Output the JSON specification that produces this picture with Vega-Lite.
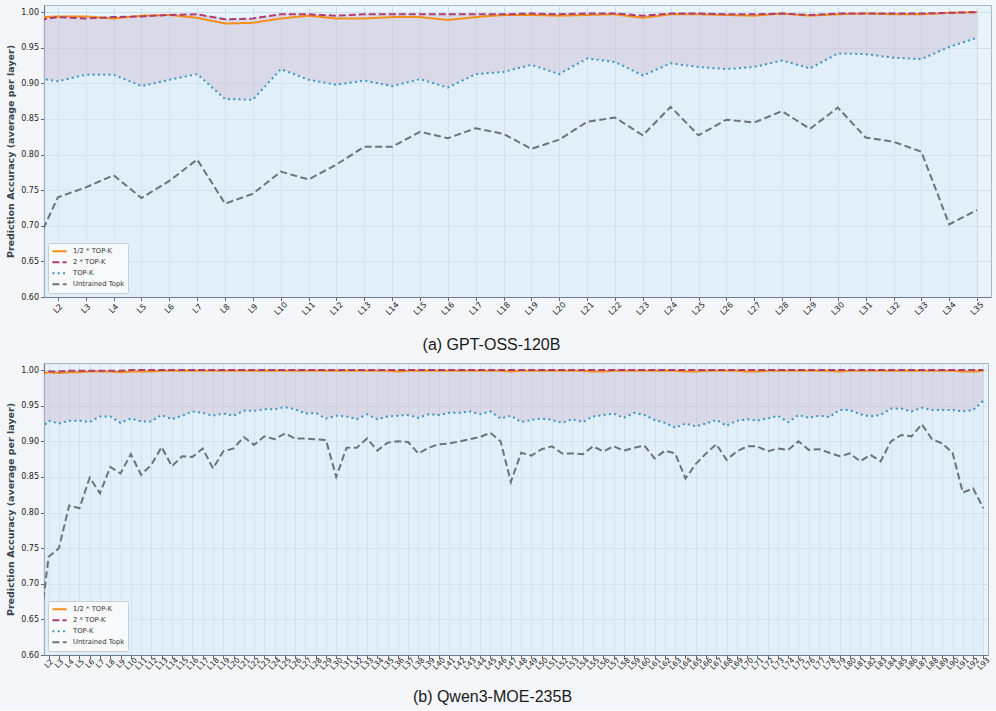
{
  "$schema": "https://vega.github.io/schema/vega-lite/v6.json",
  "background": "#f4f6fa",
  "padding": {"left": 5, "top": 4, "right": 5, "bottom": 5},
  "datasets": {
    "gpt": [
      {"layer":1,"half":0.992,"dbl":0.987,"topk":0.909,"untr":0.656},
      {"layer":2,"half":0.994,"dbl":0.993,"topk":0.903,"untr":0.740},
      {"layer":3,"half":0.994,"dbl":0.991,"topk":0.912,"untr":0.754},
      {"layer":4,"half":0.991,"dbl":0.993,"topk":0.912,"untr":0.771},
      {"layer":5,"half":0.995,"dbl":0.994,"topk":0.896,"untr":0.739},
      {"layer":6,"half":0.996,"dbl":0.996,"topk":0.905,"untr":0.763},
      {"layer":7,"half":0.992,"dbl":0.997,"topk":0.913,"untr":0.793},
      {"layer":8,"half":0.984,"dbl":0.990,"topk":0.878,"untr":0.731},
      {"layer":9,"half":0.985,"dbl":0.991,"topk":0.877,"untr":0.745},
      {"layer":10,"half":0.991,"dbl":0.997,"topk":0.920,"untr":0.776},
      {"layer":11,"half":0.995,"dbl":0.997,"topk":0.905,"untr":0.765},
      {"layer":12,"half":0.991,"dbl":0.995,"topk":0.898,"untr":0.786},
      {"layer":13,"half":0.991,"dbl":0.997,"topk":0.904,"untr":0.811},
      {"layer":14,"half":0.993,"dbl":0.997,"topk":0.896,"untr":0.811},
      {"layer":15,"half":0.993,"dbl":0.997,"topk":0.906,"untr":0.832},
      {"layer":16,"half":0.989,"dbl":0.997,"topk":0.894,"untr":0.823},
      {"layer":17,"half":0.993,"dbl":0.997,"topk":0.913,"untr":0.837},
      {"layer":18,"half":0.996,"dbl":0.997,"topk":0.916,"untr":0.829},
      {"layer":19,"half":0.996,"dbl":0.998,"topk":0.926,"untr":0.808},
      {"layer":20,"half":0.995,"dbl":0.997,"topk":0.913,"untr":0.821},
      {"layer":21,"half":0.996,"dbl":0.998,"topk":0.935,"untr":0.846},
      {"layer":22,"half":0.997,"dbl":0.998,"topk":0.930,"untr":0.852},
      {"layer":23,"half":0.992,"dbl":0.995,"topk":0.911,"untr":0.827},
      {"layer":24,"half":0.997,"dbl":0.998,"topk":0.928,"untr":0.867},
      {"layer":25,"half":0.997,"dbl":0.998,"topk":0.923,"untr":0.827},
      {"layer":26,"half":0.996,"dbl":0.997,"topk":0.920,"untr":0.849},
      {"layer":27,"half":0.995,"dbl":0.997,"topk":0.923,"untr":0.845},
      {"layer":28,"half":0.998,"dbl":0.998,"topk":0.932,"untr":0.861},
      {"layer":29,"half":0.995,"dbl":0.996,"topk":0.921,"untr":0.836},
      {"layer":30,"half":0.997,"dbl":0.998,"topk":0.942,"untr":0.866},
      {"layer":31,"half":0.998,"dbl":0.998,"topk":0.941,"untr":0.824},
      {"layer":32,"half":0.997,"dbl":0.998,"topk":0.936,"untr":0.818},
      {"layer":33,"half":0.997,"dbl":0.998,"topk":0.934,"untr":0.804},
      {"layer":34,"half":0.999,"dbl":0.999,"topk":0.951,"untr":0.702},
      {"layer":35,"half":1.000,"dbl":1.000,"topk":0.964,"untr":0.722}
    ],
    "qwen": [
      {"layer":1,"half":0.994,"dbl":0.996,"topk":0.912,"untr":0.620},
      {"layer":2,"half":0.997,"dbl":0.998,"topk":0.929,"untr":0.738},
      {"layer":3,"half":0.996,"dbl":0.998,"topk":0.925,"untr":0.750},
      {"layer":4,"half":0.997,"dbl":0.999,"topk":0.929,"untr":0.810},
      {"layer":5,"half":0.997,"dbl":0.999,"topk":0.929,"untr":0.806},
      {"layer":6,"half":0.998,"dbl":0.999,"topk":0.927,"untr":0.849},
      {"layer":7,"half":0.998,"dbl":0.999,"topk":0.935,"untr":0.827},
      {"layer":8,"half":0.998,"dbl":0.999,"topk":0.935,"untr":0.864},
      {"layer":9,"half":0.997,"dbl":0.999,"topk":0.926,"untr":0.855},
      {"layer":10,"half":0.998,"dbl":1.000,"topk":0.932,"untr":0.882},
      {"layer":11,"half":0.998,"dbl":1.000,"topk":0.928,"untr":0.853},
      {"layer":12,"half":0.998,"dbl":1.000,"topk":0.928,"untr":0.867},
      {"layer":13,"half":0.999,"dbl":1.000,"topk":0.937,"untr":0.892},
      {"layer":14,"half":0.999,"dbl":1.000,"topk":0.931,"untr":0.865},
      {"layer":15,"half":0.999,"dbl":1.000,"topk":0.936,"untr":0.879},
      {"layer":16,"half":0.999,"dbl":1.000,"topk":0.942,"untr":0.878},
      {"layer":17,"half":0.999,"dbl":1.000,"topk":0.940,"untr":0.890},
      {"layer":18,"half":0.999,"dbl":1.000,"topk":0.936,"untr":0.862},
      {"layer":19,"half":0.999,"dbl":1.000,"topk":0.939,"untr":0.886},
      {"layer":20,"half":0.999,"dbl":1.000,"topk":0.936,"untr":0.890},
      {"layer":21,"half":0.999,"dbl":1.000,"topk":0.943,"untr":0.906},
      {"layer":22,"half":0.999,"dbl":1.000,"topk":0.943,"untr":0.895},
      {"layer":23,"half":0.999,"dbl":1.000,"topk":0.945,"untr":0.907},
      {"layer":24,"half":0.999,"dbl":1.000,"topk":0.945,"untr":0.903},
      {"layer":25,"half":0.999,"dbl":1.000,"topk":0.948,"untr":0.911},
      {"layer":26,"half":0.999,"dbl":1.000,"topk":0.945,"untr":0.904},
      {"layer":27,"half":0.999,"dbl":1.000,"topk":0.939,"untr":0.904},
      {"layer":28,"half":0.999,"dbl":1.000,"topk":0.940,"untr":0.903},
      {"layer":29,"half":0.999,"dbl":1.000,"topk":0.932,"untr":0.902},
      {"layer":30,"half":0.999,"dbl":1.000,"topk":0.936,"untr":0.850},
      {"layer":31,"half":0.999,"dbl":1.000,"topk":0.935,"untr":0.891},
      {"layer":32,"half":0.999,"dbl":1.000,"topk":0.931,"untr":0.891},
      {"layer":33,"half":0.999,"dbl":1.000,"topk":0.938,"untr":0.904},
      {"layer":34,"half":0.999,"dbl":1.000,"topk":0.931,"untr":0.887},
      {"layer":35,"half":0.999,"dbl":1.000,"topk":0.935,"untr":0.898},
      {"layer":36,"half":0.998,"dbl":1.000,"topk":0.936,"untr":0.900},
      {"layer":37,"half":0.999,"dbl":1.000,"topk":0.937,"untr":0.899},
      {"layer":38,"half":0.999,"dbl":1.000,"topk":0.933,"untr":0.883},
      {"layer":39,"half":0.999,"dbl":1.000,"topk":0.938,"untr":0.891},
      {"layer":40,"half":0.999,"dbl":1.000,"topk":0.937,"untr":0.896},
      {"layer":41,"half":0.999,"dbl":1.000,"topk":0.940,"untr":0.897},
      {"layer":42,"half":0.999,"dbl":1.000,"topk":0.940,"untr":0.900},
      {"layer":43,"half":0.999,"dbl":1.000,"topk":0.942,"untr":0.903},
      {"layer":44,"half":0.999,"dbl":1.000,"topk":0.938,"untr":0.906},
      {"layer":45,"half":0.999,"dbl":1.000,"topk":0.942,"untr":0.912},
      {"layer":46,"half":0.999,"dbl":1.000,"topk":0.932,"untr":0.900},
      {"layer":47,"half":0.998,"dbl":1.000,"topk":0.936,"untr":0.843},
      {"layer":48,"half":0.999,"dbl":1.000,"topk":0.927,"untr":0.884},
      {"layer":49,"half":0.999,"dbl":1.000,"topk":0.930,"untr":0.880},
      {"layer":50,"half":0.999,"dbl":1.000,"topk":0.932,"untr":0.889},
      {"layer":51,"half":0.999,"dbl":1.000,"topk":0.930,"untr":0.893},
      {"layer":52,"half":0.999,"dbl":1.000,"topk":0.926,"untr":0.883},
      {"layer":53,"half":0.999,"dbl":1.000,"topk":0.931,"untr":0.883},
      {"layer":54,"half":0.999,"dbl":1.000,"topk":0.927,"untr":0.882},
      {"layer":55,"half":0.998,"dbl":1.000,"topk":0.935,"untr":0.893},
      {"layer":56,"half":0.998,"dbl":1.000,"topk":0.937,"untr":0.886},
      {"layer":57,"half":0.999,"dbl":1.000,"topk":0.939,"untr":0.893},
      {"layer":58,"half":0.999,"dbl":1.000,"topk":0.933,"untr":0.887},
      {"layer":59,"half":0.999,"dbl":1.000,"topk":0.940,"untr":0.891},
      {"layer":60,"half":0.999,"dbl":1.000,"topk":0.937,"untr":0.894},
      {"layer":61,"half":0.999,"dbl":1.000,"topk":0.930,"untr":0.876},
      {"layer":62,"half":0.999,"dbl":1.000,"topk":0.926,"untr":0.887},
      {"layer":63,"half":0.999,"dbl":1.000,"topk":0.919,"untr":0.883},
      {"layer":64,"half":0.998,"dbl":1.000,"topk":0.925,"untr":0.848},
      {"layer":65,"half":0.998,"dbl":1.000,"topk":0.921,"untr":0.868},
      {"layer":66,"half":0.999,"dbl":1.000,"topk":0.925,"untr":0.883},
      {"layer":67,"half":0.999,"dbl":1.000,"topk":0.930,"untr":0.896},
      {"layer":68,"half":0.999,"dbl":1.000,"topk":0.922,"untr":0.874},
      {"layer":69,"half":0.999,"dbl":1.000,"topk":0.929,"untr":0.886},
      {"layer":70,"half":0.998,"dbl":1.000,"topk":0.931,"untr":0.893},
      {"layer":71,"half":0.998,"dbl":1.000,"topk":0.929,"untr":0.893},
      {"layer":72,"half":0.999,"dbl":1.000,"topk":0.932,"untr":0.886},
      {"layer":73,"half":0.999,"dbl":1.000,"topk":0.936,"untr":0.890},
      {"layer":74,"half":0.999,"dbl":1.000,"topk":0.927,"untr":0.888},
      {"layer":75,"half":0.999,"dbl":1.000,"topk":0.937,"untr":0.900},
      {"layer":76,"half":0.999,"dbl":1.000,"topk":0.933,"untr":0.888},
      {"layer":77,"half":0.999,"dbl":1.000,"topk":0.936,"untr":0.889},
      {"layer":78,"half":0.999,"dbl":1.000,"topk":0.934,"untr":0.884},
      {"layer":79,"half":0.998,"dbl":1.000,"topk":0.944,"untr":0.879},
      {"layer":80,"half":0.999,"dbl":1.000,"topk":0.944,"untr":0.883},
      {"layer":81,"half":0.999,"dbl":1.000,"topk":0.938,"untr":0.872},
      {"layer":82,"half":0.999,"dbl":1.000,"topk":0.935,"untr":0.881},
      {"layer":83,"half":0.999,"dbl":1.000,"topk":0.937,"untr":0.872},
      {"layer":84,"half":0.999,"dbl":1.000,"topk":0.946,"untr":0.900},
      {"layer":85,"half":0.999,"dbl":1.000,"topk":0.946,"untr":0.909},
      {"layer":86,"half":0.999,"dbl":1.000,"topk":0.942,"untr":0.907},
      {"layer":87,"half":0.999,"dbl":1.000,"topk":0.947,"untr":0.924},
      {"layer":88,"half":0.999,"dbl":1.000,"topk":0.944,"untr":0.903},
      {"layer":89,"half":0.999,"dbl":1.000,"topk":0.944,"untr":0.897},
      {"layer":90,"half":0.999,"dbl":1.000,"topk":0.944,"untr":0.884},
      {"layer":91,"half":0.998,"dbl":1.000,"topk":0.942,"untr":0.828},
      {"layer":92,"half":0.998,"dbl":1.000,"topk":0.944,"untr":0.834},
      {"layer":93,"half":0.999,"dbl":1.000,"topk":0.957,"untr":0.806}
    ]
  },
  "spacing": 66,
  "bounds": "flush",
  "resolve": {
    "scale": {"color": "independent", "strokeDash": "independent", "x": "independent", "y": "independent"},
    "legend": {"color": "independent", "strokeDash": "independent"}
  },
  "vconcat": [
    {
      "width": 947,
      "height": 292,
      "data": {"name": "gpt"},
      "encoding": {
        "x": {"field": "layer", "type": "quantitative", "scale": {"domain": [1.5, 35.5], "nice": false, "zero": false},
          "axis": {"values": [2,3,4,5,6,7,8,9,10,11,12,13,14,15,16,17,18,19,20,21,22,23,24,25,26,27,28,29,30,31,32,33,34,35],
            "labelExpr": "'L' + datum.value", "labelAngle": -45, "labelAlign": "center", "labelBaseline": "middle",
            "labelPadding": 8, "labelFontSize": 8, "labelOverlap": false, "labelFlush": false,
            "title": "(a) GPT-OSS-120B", "titleX": 447, "titleY": 47, "titleBaseline": "middle", "titleAlign": "center",
            "titleFont": "Liberation Sans", "titleFontSize": 16, "titleFontWeight": "normal", "titleColor": "#1a1a1a"}}
      },
      "layer": [
        {
          "mark": {"type": "area", "clip": true, "color": "#d9ecf7", "opacity": 0.45},
          "encoding": {
            "y": {"field": "topk", "type": "quantitative", "scale": {"domain": [0.6, 1.01], "nice": false, "zero": false},
              "axis": {"values": [0.6,0.65,0.7,0.75,0.8,0.85,0.9,0.95,1.0], "format": ".2f", "title": "Prediction Accuracy (average per layer)"}},
            "y2": {"datum": 0.6}
          }
        },
        {
          "mark": {"type": "area", "clip": true, "color": "#cfc8dc", "opacity": 0.6},
          "encoding": {
            "y": {"field": "topk", "type": "quantitative", "scale": {"domain": [0.6, 1.01], "nice": false, "zero": false},
              "axis": {"values": [0.6,0.65,0.7,0.75,0.8,0.85,0.9,0.95,1.0], "format": ".2f", "title": "Prediction Accuracy (average per layer)"}},
            "y2": {"field": "dbl"}
          }
        },
        {
          "transform": [{"fold": ["half", "dbl", "topk", "untr"], "as": ["series", "value"]}],
          "mark": {"type": "line", "clip": true, "strokeWidth": 2},
          "encoding": {
            "y": {"field": "value", "type": "quantitative", "scale": {"domain": [0.6, 1.01], "nice": false, "zero": false},
              "axis": {"values": [0.6,0.65,0.7,0.75,0.8,0.85,0.9,0.95,1.0], "format": ".2f", "title": "Prediction Accuracy (average per layer)"}},
            "color": {"field": "series", "type": "nominal",
              "scale": {"domain": ["half", "dbl", "topk", "untr"], "range": ["#f39019", "#b23c72", "#3a96c0", "#6b737d"]},
              "legend": {"title": null, "labelExpr": "datum.label == 'half' ? '1/2 * TOP-K' : datum.label == 'dbl' ? '2 * TOP-K' : datum.label == 'topk' ? 'TOP-K' : 'Untrained Topk'"}},
            "strokeDash": {"field": "series", "type": "nominal",
              "scale": {"domain": ["half", "dbl", "topk", "untr"], "range": [[1, 0], [7, 3], [2, 3.3], [7, 3.5]]},
              "legend": {"title": null, "labelExpr": "datum.label == 'half' ? '1/2 * TOP-K' : datum.label == 'dbl' ? '2 * TOP-K' : datum.label == 'topk' ? 'TOP-K' : 'Untrained Topk'"}}
          }
        }
      ]
    },
    {
      "width": 944,
      "height": 292,
      "data": {"name": "qwen"},
      "encoding": {
        "x": {"field": "layer", "type": "quantitative", "scale": {"domain": [1.55, 93.45], "nice": false, "zero": false},
          "axis": {"values": [2,3,4,5,6,7,8,9,10,11,12,13,14,15,16,17,18,19,20,21,22,23,24,25,26,27,28,29,30,31,32,33,34,35,36,37,38,39,40,41,42,43,44,45,46,47,48,49,50,51,52,53,54,55,56,57,58,59,60,61,62,63,64,65,66,67,68,69,70,71,72,73,74,75,76,77,78,79,80,81,82,83,84,85,86,87,88,89,90,91,92,93],
            "labelExpr": "'L' + datum.value", "labelAngle": -45, "labelAlign": "center", "labelBaseline": "middle",
            "labelPadding": 5, "labelFontSize": 7.5, "labelOverlap": false, "labelFlush": false,
            "title": "(b) Qwen3-MOE-235B", "titleX": 448, "titleY": 41, "titleBaseline": "middle", "titleAlign": "center",
            "titleFont": "Liberation Sans", "titleFontSize": 16, "titleFontWeight": "normal", "titleColor": "#1a1a1a"}}
      },
      "layer": [
        {
          "mark": {"type": "area", "clip": true, "color": "#d9ecf7", "opacity": 0.45},
          "encoding": {
            "y": {"field": "topk", "type": "quantitative", "scale": {"domain": [0.6, 1.01], "nice": false, "zero": false},
              "axis": {"values": [0.6,0.65,0.7,0.75,0.8,0.85,0.9,0.95,1.0], "format": ".2f", "title": "Prediction Accuracy (average per layer)"}},
            "y2": {"datum": 0.6}
          }
        },
        {
          "mark": {"type": "area", "clip": true, "color": "#cfc8dc", "opacity": 0.6},
          "encoding": {
            "y": {"field": "topk", "type": "quantitative", "scale": {"domain": [0.6, 1.01], "nice": false, "zero": false},
              "axis": {"values": [0.6,0.65,0.7,0.75,0.8,0.85,0.9,0.95,1.0], "format": ".2f", "title": "Prediction Accuracy (average per layer)"}},
            "y2": {"field": "dbl"}
          }
        },
        {
          "transform": [{"fold": ["half", "dbl", "topk", "untr"], "as": ["series", "value"]}],
          "mark": {"type": "line", "clip": true, "strokeWidth": 2},
          "encoding": {
            "y": {"field": "value", "type": "quantitative", "scale": {"domain": [0.6, 1.01], "nice": false, "zero": false},
              "axis": {"values": [0.6,0.65,0.7,0.75,0.8,0.85,0.9,0.95,1.0], "format": ".2f", "title": "Prediction Accuracy (average per layer)"}},
            "color": {"field": "series", "type": "nominal",
              "scale": {"domain": ["half", "dbl", "topk", "untr"], "range": ["#f39019", "#b23c72", "#3a96c0", "#6b737d"]},
              "legend": {"title": null, "labelExpr": "datum.label == 'half' ? '1/2 * TOP-K' : datum.label == 'dbl' ? '2 * TOP-K' : datum.label == 'topk' ? 'TOP-K' : 'Untrained Topk'"}},
            "strokeDash": {"field": "series", "type": "nominal",
              "scale": {"domain": ["half", "dbl", "topk", "untr"], "range": [[1, 0], [7, 3], [2, 3.3], [7, 3.5]]},
              "legend": {"title": null, "labelExpr": "datum.label == 'half' ? '1/2 * TOP-K' : datum.label == 'dbl' ? '2 * TOP-K' : datum.label == 'topk' ? 'TOP-K' : 'Untrained Topk'"}}
          }
        }
      ]
    }
  ],
  "config": {
    "font": "DejaVu Sans",
    "view": {"fill": "#e8f3fa", "stroke": "#a9b6c5", "strokeWidth": 1},
    "axis": {
      "gridColor": "#c6d7e7", "gridWidth": 0.8, "gridOpacity": 1,
      "domainColor": "#6f7c8c", "domainWidth": 1.2, "tickColor": "#3b4450", "tickSize": 3.5, "tickWidth": 0.8,
      "labelColor": "#222222", "labelFontSize": 8, "labelPadding": 2,
      "titleFontSize": 9.5, "titleFontWeight": "bold", "titleColor": "#3a4350"
    },
    "axisY": {"titlePadding": 5},
    "legend": {
      "orient": "bottom-left", "offset": 4, "symbolType": "stroke", "symbolStrokeWidth": 2, "symbolSize": 200,
      "labelFontSize": 6.8, "labelColor": "#333333", "padding": 3, "rowPadding": 0, "clipHeight": 10.5,
      "fillColor": "#f7f9fb", "strokeColor": "#c8cdd4", "cornerRadius": 2, "labelOffset": 5
    }
  }
}
